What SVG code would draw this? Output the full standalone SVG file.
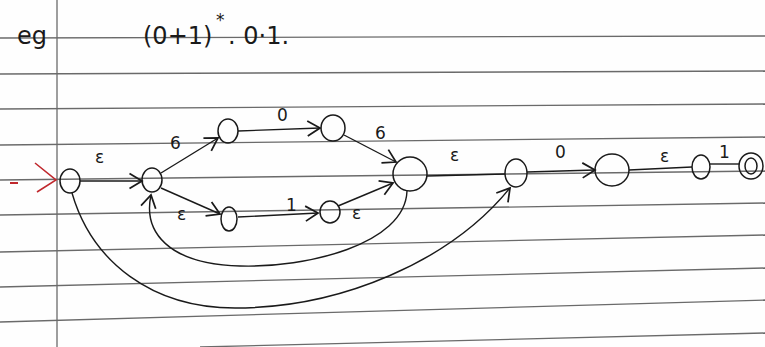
<svg xmlns="http://www.w3.org/2000/svg" width="765" height="347" viewBox="0 0 765 347">
<style>
.rule{stroke:#6a6a6a;stroke-width:1.3;fill:none}
.st{fill:none;stroke:#1a1a1a;stroke-width:1.5}
.ed{fill:none;stroke:#1a1a1a;stroke-width:1.4}
.lb{font-family:"DejaVu Sans",sans-serif;font-size:17px;fill:#1a1a1a}
.hd{font-family:"DejaVu Sans",sans-serif;font-size:24px;fill:#1a1a1a}
</style>
<defs>
<marker id="ah" markerUnits="userSpaceOnUse" markerWidth="20" markerHeight="20" viewBox="-12 -8 14 16" refX="0" refY="0" orient="auto">
<path d="M-10,-6 L0,0 L-10,6" fill="none" stroke="#1a1a1a" stroke-width="1.4"/>
</marker>
</defs>
<rect width="765" height="347" fill="#fefefe"/>
<g id="paper">
<line class="rule" x1="0" y1="38" x2="765" y2="36"/>
<line class="rule" x1="0" y1="74" x2="765" y2="71"/>
<line class="rule" x1="0" y1="109" x2="765" y2="104"/>
<line class="rule" x1="0" y1="145" x2="765" y2="137"/>
<line class="rule" x1="0" y1="180" x2="765" y2="171"/>
<line class="rule" x1="0" y1="215" x2="765" y2="203"/>
<line class="rule" x1="0" y1="252" x2="765" y2="235"/>
<line class="rule" x1="0" y1="287" x2="765" y2="268"/>
<line class="rule" x1="0" y1="322" x2="765" y2="300"/>
<line class="rule" x1="200" y1="347" x2="765" y2="333"/>
<line class="rule" x1="57" y1="0" x2="57" y2="347"/>
</g>
<g id="title">
<text class="hd" x="17" y="44">eg</text>
<text class="hd" x="143" y="44">(0+1)</text>
<text class="lb" x="216" y="26">*</text>
<text class="hd" x="228" y="44">. 0·1.</text>
</g>
<g id="connectors">
<line x1="10" y1="183" x2="18" y2="183" stroke="#c0282d" stroke-width="2"/>
<path d="M35,163 L56,180 L37,192" fill="none" stroke="#c0282d" stroke-width="1.6"/>
<line class="ed" x1="80" y1="181" x2="142" y2="181" marker-end="url(#ah)"/>
<line class="ed" x1="161" y1="173" x2="218" y2="138" marker-end="url(#ah)"/>
<line class="ed" x1="238" y1="131" x2="320" y2="128" marker-end="url(#ah)"/>
<line class="ed" x1="344" y1="135" x2="396" y2="162" marker-end="url(#ah)"/>
<line class="ed" x1="161" y1="188" x2="220" y2="214" marker-end="url(#ah)"/>
<line class="ed" x1="238" y1="217" x2="318" y2="213" marker-end="url(#ah)"/>
<line class="ed" x1="338" y1="206" x2="393" y2="183" marker-end="url(#ah)"/>
<line class="ed" x1="427" y1="176" x2="505" y2="174"/>
<line class="ed" x1="527" y1="172" x2="595" y2="170" marker-end="url(#ah)"/>
<line class="ed" x1="629" y1="170" x2="692" y2="167"/>
<line class="ed" x1="710" y1="164" x2="739" y2="164"/>
<path class="ed" d="M407,191 C405,245 305,268 240,266 C168,264 143,232 151,195" marker-end="url(#ah)"/>
<path class="ed" d="M72,193 C92,262 152,308 235,308 C340,308 450,262 510,188" marker-end="url(#ah)"/>
</g>
<g id="labels">
<text class="lb" x="95" y="163">ε</text>
<text class="lb" x="170" y="149">6</text>
<text class="lb" x="277" y="121">0</text>
<text class="lb" x="375" y="139">6</text>
<text class="lb" x="177" y="220">ε</text>
<text class="lb" x="286" y="211">1</text>
<text class="lb" x="352" y="219">ε</text>
<text class="lb" x="450" y="161">ε</text>
<text class="lb" x="555" y="158">0</text>
<text class="lb" x="660" y="162">ε</text>
<text class="lb" x="719" y="158">1</text>
</g>
<g id="q0"><ellipse class="st" cx="70" cy="181" rx="10" ry="12"/></g>
<g id="q1"><ellipse class="st" cx="152" cy="180" rx="10" ry="12"/></g>
<g id="q2"><ellipse class="st" cx="228" cy="131" rx="10" ry="12"/></g>
<g id="q3"><ellipse class="st" cx="333" cy="128" rx="12" ry="13"/></g>
<g id="q4"><ellipse class="st" cx="229" cy="219" rx="8" ry="12"/></g>
<g id="q5"><ellipse class="st" cx="330" cy="212" rx="10" ry="11"/></g>
<g id="q6"><ellipse class="st" cx="410" cy="174" rx="17" ry="17"/></g>
<g id="q7"><ellipse class="st" cx="516" cy="173" rx="11" ry="14"/></g>
<g id="q8"><ellipse class="st" cx="612" cy="170" rx="17" ry="16"/></g>
<g id="q9"><ellipse class="st" cx="701" cy="167" rx="9" ry="12"/></g>
<g id="q10"><ellipse class="st" cx="751" cy="166" rx="12" ry="13"/><ellipse class="st" cx="751" cy="166" rx="6" ry="8"/></g>
</svg>
